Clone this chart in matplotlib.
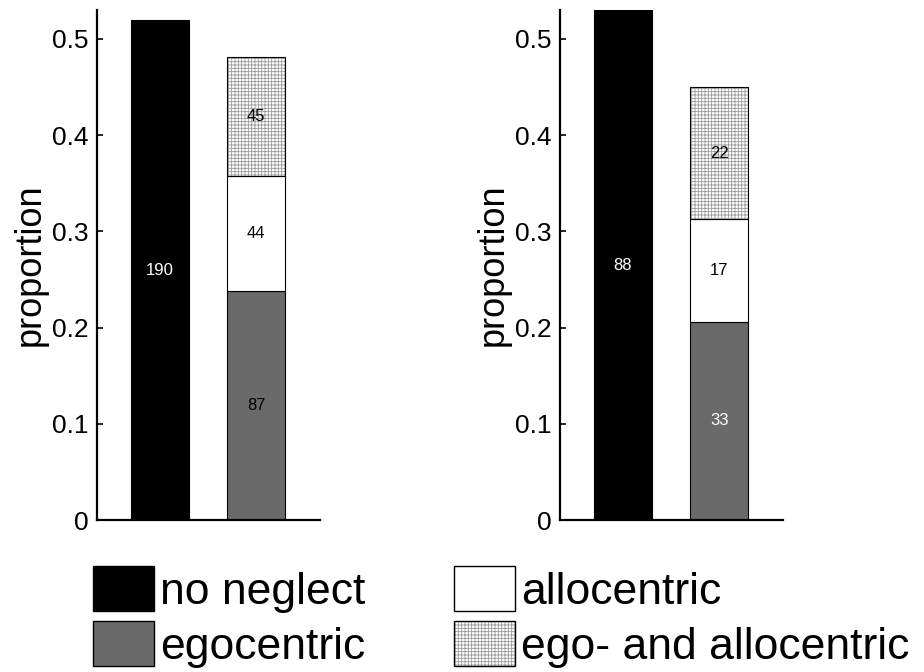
import matplotlib
matplotlib.use("Agg")
import matplotlib.pyplot as plt
from matplotlib.patches import Patch

plt.rcParams['font.family'] = ['Liberation Sans', 'DejaVu Sans']
plt.rcParams['hatch.linewidth'] = 0.6

# counts per group, left panel and right panel
categories = ['no neglect', 'egocentric', 'allocentric', 'ego- and allocentric']
counts_left = [190, 87, 44, 45]
counts_right = [88, 33, 17, 22]
# text colour of the count inside each segment
label_colors_left = ['white', 'black', 'black', 'black']
label_colors_right = ['white', 'white', 'black', 'black']
yticks = [0, 0.1, 0.2, 0.3, 0.4, 0.5]
ytick_labels = ['0', '0.1', '0.2', '0.3', '0.4', '0.5']

GREY = '#6a6a6a'
HATCH_GREY = '#9a9a9a'


def draw_panel(ax, counts, label_colors):
    total = sum(counts)
    props = [c / total for c in counts]
    w = 0.6
    # black bar: no neglect
    ax.bar(1, props[0], w, color='black', edgecolor='black', linewidth=0.8)
    # stacked bar
    bottom = 0
    ax.bar(2, props[1], w, bottom=bottom, color=GREY, edgecolor='black', linewidth=0.8)
    bottom += props[1]
    ax.bar(2, props[2], w, bottom=bottom, color='white', edgecolor='black', linewidth=0.8)
    bottom += props[2]
    ax.bar(2, props[3], w, bottom=bottom, color='white', edgecolor=HATCH_GREY,
           hatch='+++++', linewidth=0)
    ax.bar(2, props[3], w, bottom=bottom, fill=False, edgecolor='black', linewidth=0.8)

    # count labels in the middle of each segment
    ax.text(1, min(props[0], 0.53) / 2, str(counts[0]), ha='center', va='center',
            fontsize=12, color=label_colors[0])
    bottom = 0
    for i in range(1, 4):
        ax.text(2, bottom + props[i] / 2, str(counts[i]), ha='center', va='center',
                fontsize=12, color=label_colors[i])
        bottom += props[i]

    ax.set_xlim(0.35, 2.66)
    ax.set_ylim(0, 0.53)
    ax.set_xticks([])
    ax.set_yticks(yticks)
    ax.set_yticklabels(ytick_labels)
    ax.tick_params(axis='y', direction='in', length=4, width=1.2, labelsize=19, pad=6)
    for s in ['top', 'right']:
        ax.spines[s].set_visible(False)
    for s in ['left', 'bottom']:
        ax.spines[s].set_linewidth(1.6)
    ax.set_ylabel('proportion', fontsize=26, labelpad=3)


fig = plt.figure(figsize=(9.24, 6.72), dpi=100)
ax1 = fig.add_axes([97 / 924, 152 / 672, 223 / 924, 510 / 672])
ax2 = fig.add_axes([560 / 924, 152 / 672, 223 / 924, 510 / 672])

draw_panel(ax1, counts_left, label_colors_left)
draw_panel(ax2, counts_right, label_colors_right)

h_none = Patch(facecolor='black', edgecolor='black')
h_ego = Patch(facecolor=GREY, edgecolor='black')
h_allo = Patch(facecolor='white', edgecolor='black')
h_both = (Patch(facecolor='white', edgecolor=HATCH_GREY, hatch='+++++', linewidth=0),
          Patch(fill=False, edgecolor='black'))

fig.legend([h_none, h_ego, h_allo, h_both], categories, ncol=2,
           loc='upper left', bbox_to_anchor=(93 / 924, 1 - 566 / 672),
           frameon=False, fontsize=32, handlelength=1.37, handleheight=1.18,
           handletextpad=0.135, labelspacing=0.2, columnspacing=2.0,
           borderpad=0, borderaxespad=0)

fig.savefig('out.png', dpi=100)
